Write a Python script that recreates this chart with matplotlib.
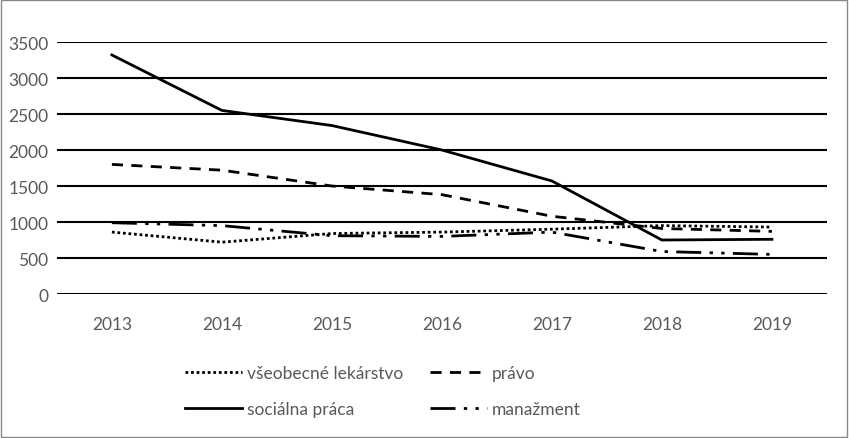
import matplotlib.pyplot as plt
from matplotlib.patches import Rectangle

years = ['2013', '2014', '2015', '2016', '2017', '2018', '2019']
lekarstvo = [860, 720, 840, 860, 900, 950, 930]
pravo = [1800, 1720, 1500, 1380, 1080, 910, 870]
socialna = [3320, 2550, 2340, 2000, 1570, 750, 760]
manazment = [990, 950, 810, 800, 860, 590, 550]

plt.rcParams['font.family'] = ['Lato', 'DejaVu Sans']
grey = '#595959'

fig = plt.figure(figsize=(8.49, 4.39), dpi=100)
ax = fig.add_axes([0.067, 0.328, 0.907, 0.574])

x = list(range(len(years)))
l1, = ax.plot(x, lekarstvo, color='black', lw=2, ls=(0, (1, 1)))
l2, = ax.plot(x, pravo, color='black', lw=2, ls=(0, (4, 3)))
l3, = ax.plot(x, socialna, color='black', lw=2, ls='-')
l4, = ax.plot(x, manazment, color='black', lw=2, ls=(0, (9, 3, 1.2, 3, 1.2, 3)))

ax.set_xlim(-0.5, len(years) - 0.5)
ax.set_ylim(0, 3500)
ax.set_yticks(range(0, 3501, 500))
ax.set_xticks(x)
ax.set_xticklabels(years)
ax.yaxis.grid(True, color='black', lw=1.5)
ax.set_axisbelow(True)
for s in ax.spines.values():
    s.set_visible(False)
ax.tick_params(length=0, labelsize=12.5, colors=grey)
ax.tick_params(axis='x', pad=16)
ax.tick_params(axis='y', pad=6)

fig.legend([l1, l3, l2, l4],
           ['všeobecné lekárstvo', 'sociálna práca', 'právo', 'manažment'],
           ncol=2, loc='center', bbox_to_anchor=(0.451, 0.107),
           frameon=False, fontsize=12.5, labelcolor=grey,
           handlelength=3.3, handletextpad=0.3, columnspacing=1.5,
           labelspacing=1.15)

fig.patches.append(Rectangle((0.001, 0.002), 0.997, 0.996, transform=fig.transFigure,
                             fill=False, edgecolor='#888888', lw=1))

fig.savefig('out.png', dpi=100)
